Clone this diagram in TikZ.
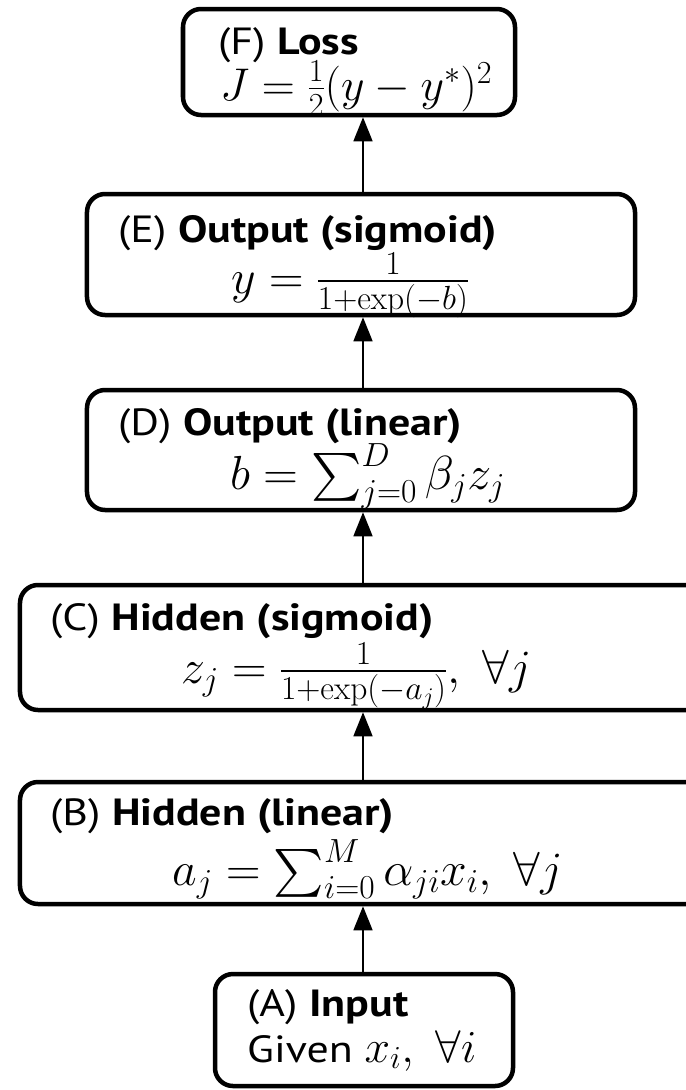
\RequirePackage{fix-cm}
\documentclass[tikz,border=0pt]{standalone}
\usepackage{amsmath}
\DeclareFontFamily{OMX}{cmex}{}
\DeclareFontShape{OMX}{cmex}{m}{n}{<-> cmex10}{}
\usepackage[no-math]{fontspec}
\newfontfamily\lblfont[FakeStretch=1.16]{PT Sans}
\usetikzlibrary{arrows.meta}
\begin{document}
\begin{tikzpicture}[x=1bp,y=-1bp,
  layer/.style={draw=black,line width=4.5bp,rounded corners=18bp,inner sep=0pt},
  ttl/.style={anchor=base west,inner sep=0pt,font=\lblfont\fontsize{38}{44}\selectfont},
  eqn/.style={anchor=base west,inner sep=0pt,font=\fontsize{48}{54}\selectfont},
  eqnsmall/.style={anchor=base west,inner sep=0pt,font=\fontsize{46}{52}\selectfont},
  arr/.style={line width=1.5bp,-{Triangle[width=19bp,length=24bp]}}]
\clip (0,0) rectangle (686,1090);
\fill[white] (0,0) rectangle (686,1090);
% boxes
\node[layer,minimum width=332bp,minimum height=106bp] (F) at (349,62) {};
\node[layer,minimum width=548bp,minimum height=121bp] (E) at (361,254.5) {};
\node[layer,minimum width=548bp,minimum height=120bp] (D) at (361,450) {};
\node[layer,minimum width=700bp,minimum height=125bp] (C) at (370,647.5) {};
\node[layer,minimum width=700bp,minimum height=122bp] (B) at (370,843) {};
\node[layer,minimum width=298bp,minimum height=112bp] (A) at (364,1030) {};
% texts
\node[ttl] (Ft) at (218,54) {(F) \textbf{Loss}};
\node[eqnsmall] (Fe) at (220,100) {$J=\frac{1}{2}(y-y^{*})^{2}$};
\node[ttl] (Et) at (118,242) {(E) \textbf{Output (sigmoid)}};
\node[eqn] (Ee) at (231,293) {$y=\frac{1}{1+\exp(-b)}$};
\node[ttl] (Dt) at (118,435) {(D) \textbf{Output (linear)}};
\node[eqn] (De) at (230,489) {$b=\sum_{j=0}^{D}\beta_j z_j$};
\node[ttl] (Ct) at (50,630) {(C) \textbf{Hidden (sigmoid)}};
\node[eqn] (Ce) at (181,683) {$z_j=\frac{1}{1+\exp(-a_j)},\ \forall j$};
\node[ttl] (Bt) at (50,825) {(B) \textbf{Hidden (linear)}};
\node[eqn] (Be) at (172,885) {$a_j=\sum_{i=0}^{M}\alpha_{ji}x_i,\ \forall j$};
\node[ttl] (At) at (247,1016) {(A) \textbf{Input}};
\node[ttl] (Ae) at (247,1062) {Given {\fontsize{46}{52}\selectfont$x_i,\ \forall i$}};
% arrows
\draw[arr] (A.north -| 363,0) -- (B.south -| 363,0);
\draw[arr] (B.north -| 363,0) -- (C.south -| 363,0);
\draw[arr] (C.north -| 363,0) -- (D.south -| 363,0);
\draw[arr] (D.north -| 363,0) -- (E.south -| 363,0);
\draw[arr] (E.north -| 363,0) -- (F.south -| 363,0);
\end{tikzpicture}
\end{document}
